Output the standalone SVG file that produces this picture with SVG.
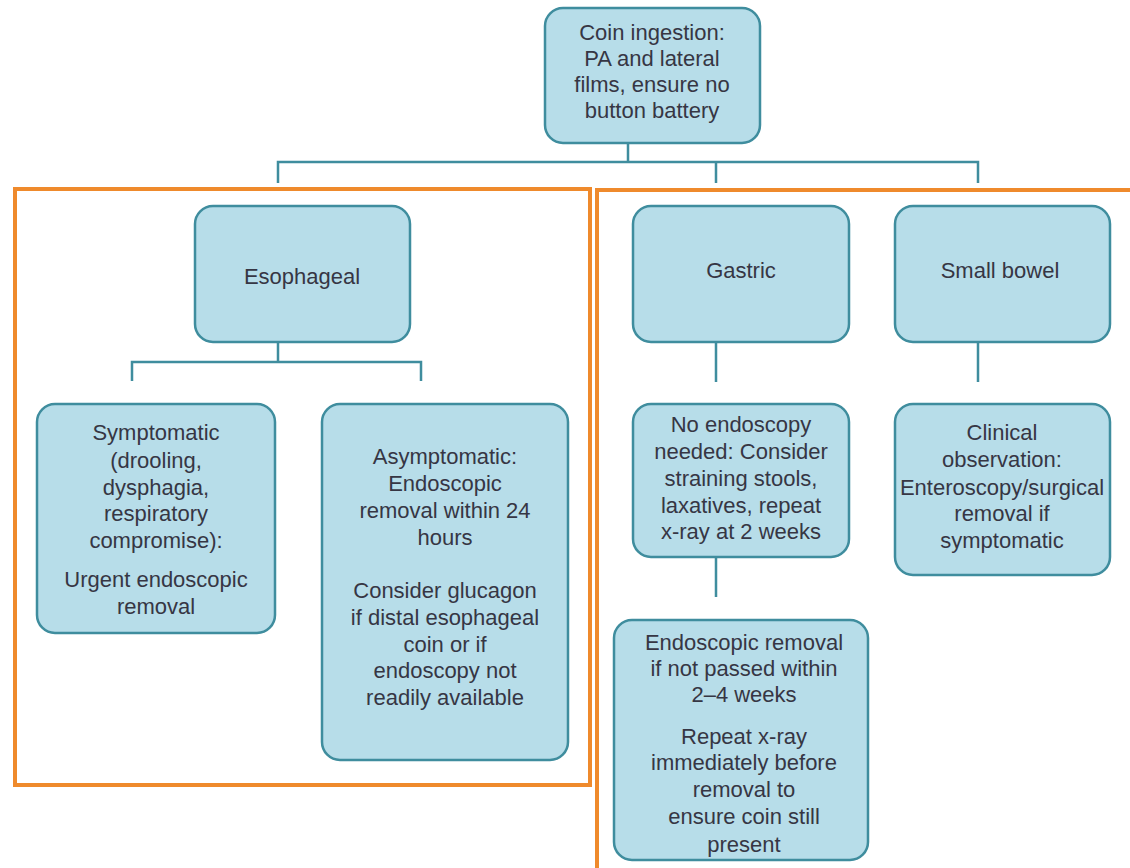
<svg xmlns="http://www.w3.org/2000/svg" width="1130" height="868" viewBox="0 0 1130 868">
<style>
.n{fill:#b7dde9;stroke:#3f8d9e;stroke-width:2.5}
.t{font-family:"Liberation Sans",Arial,sans-serif;font-size:22px;fill:#363644;text-anchor:middle}
.c{fill:none;stroke:#3f8d9e;stroke-width:2.5}
.o{fill:none;stroke:#ef8a2c;stroke-width:4}
</style>
<rect width="1130" height="868" fill="#ffffff"/>
<g id="frames">
<rect class="o" x="15" y="189" width="575" height="596"/>
<path class="o" d="M597,880 V190 H1135"/>
</g>
<g id="connectors">
<path class="c" d="M628,143 V162 M278,183 V162 H978 V183 M716,162 V183"/>
<path class="c" d="M278,342 V362 M132,381 V362 H421 V381"/>
<path class="c" d="M716,342 V382 M978,342 V382 M716,557 V597"/>
</g>
<g id="n-coin">
<rect class="n" x="545" y="8" width="215" height="135" rx="18"/>
<text class="t"><tspan x="652" y="40">Coin ingestion:</tspan><tspan x="652" y="66">PA and lateral</tspan><tspan x="652" y="92">films, ensure no</tspan><tspan x="652" y="118">button battery</tspan></text>
</g>
<g id="n-esophageal">
<rect class="n" x="195" y="206" width="215" height="136" rx="18"/>
<text class="t" x="302" y="284">Esophageal</text>
</g>
<g id="n-gastric">
<rect class="n" x="633" y="206" width="216" height="136" rx="18"/>
<text class="t" x="741" y="278">Gastric</text>
</g>
<g id="n-smallbowel">
<rect class="n" x="895" y="206" width="215" height="136" rx="18"/>
<text class="t" x="1000" y="278">Small bowel</text>
</g>
<g id="n-symptomatic">
<rect class="n" x="37" y="404" width="238" height="229" rx="18"/>
<text class="t"><tspan x="156" y="440">Symptomatic</tspan><tspan x="156" y="468">(drooling,</tspan><tspan x="156" y="495">dysphagia,</tspan><tspan x="156" y="521">respiratory</tspan><tspan x="156" y="548">compromise):</tspan><tspan x="156" y="587">Urgent endoscopic</tspan><tspan x="156" y="614">removal</tspan></text>
</g>
<g id="n-asymptomatic">
<rect class="n" x="322" y="404" width="246" height="356" rx="18"/>
<text class="t"><tspan x="445" y="464">Asymptomatic:</tspan><tspan x="445" y="491">Endoscopic</tspan><tspan x="445" y="518">removal within 24</tspan><tspan x="445" y="545">hours</tspan><tspan x="445" y="598">Consider glucagon</tspan><tspan x="445" y="625">if distal esophageal</tspan><tspan x="445" y="652">coin or if</tspan><tspan x="445" y="678">endoscopy not</tspan><tspan x="445" y="705">readily available</tspan></text>
</g>
<g id="n-noendoscopy">
<rect class="n" x="633" y="404" width="216" height="153" rx="18"/>
<text class="t"><tspan x="741" y="432">No endoscopy</tspan><tspan x="741" y="459">needed: Consider</tspan><tspan x="741" y="486">straining stools,</tspan><tspan x="741" y="513">laxatives, repeat</tspan><tspan x="741" y="539">x-ray at 2 weeks</tspan></text>
</g>
<g id="n-endoremoval">
<rect class="n" x="614" y="620" width="254" height="240" rx="18"/>
<text class="t"><tspan x="744" y="650">Endoscopic removal</tspan><tspan x="744" y="676">if not passed within</tspan><tspan x="744" y="702">2–4 weeks</tspan><tspan x="744" y="744">Repeat x-ray</tspan><tspan x="744" y="770">immediately before</tspan><tspan x="744" y="797">removal to</tspan><tspan x="744" y="824">ensure coin still</tspan><tspan x="744" y="852">present</tspan></text>
</g>
<g id="n-clinical">
<rect class="n" x="895" y="404" width="215" height="171" rx="18"/>
<text class="t"><tspan x="1002" y="440">Clinical</tspan><tspan x="1002" y="467">observation:</tspan><tspan x="1002" y="495">Enteroscopy/surgical</tspan><tspan x="1002" y="521">removal if</tspan><tspan x="1002" y="548">symptomatic</tspan></text>
</g>
</svg>
